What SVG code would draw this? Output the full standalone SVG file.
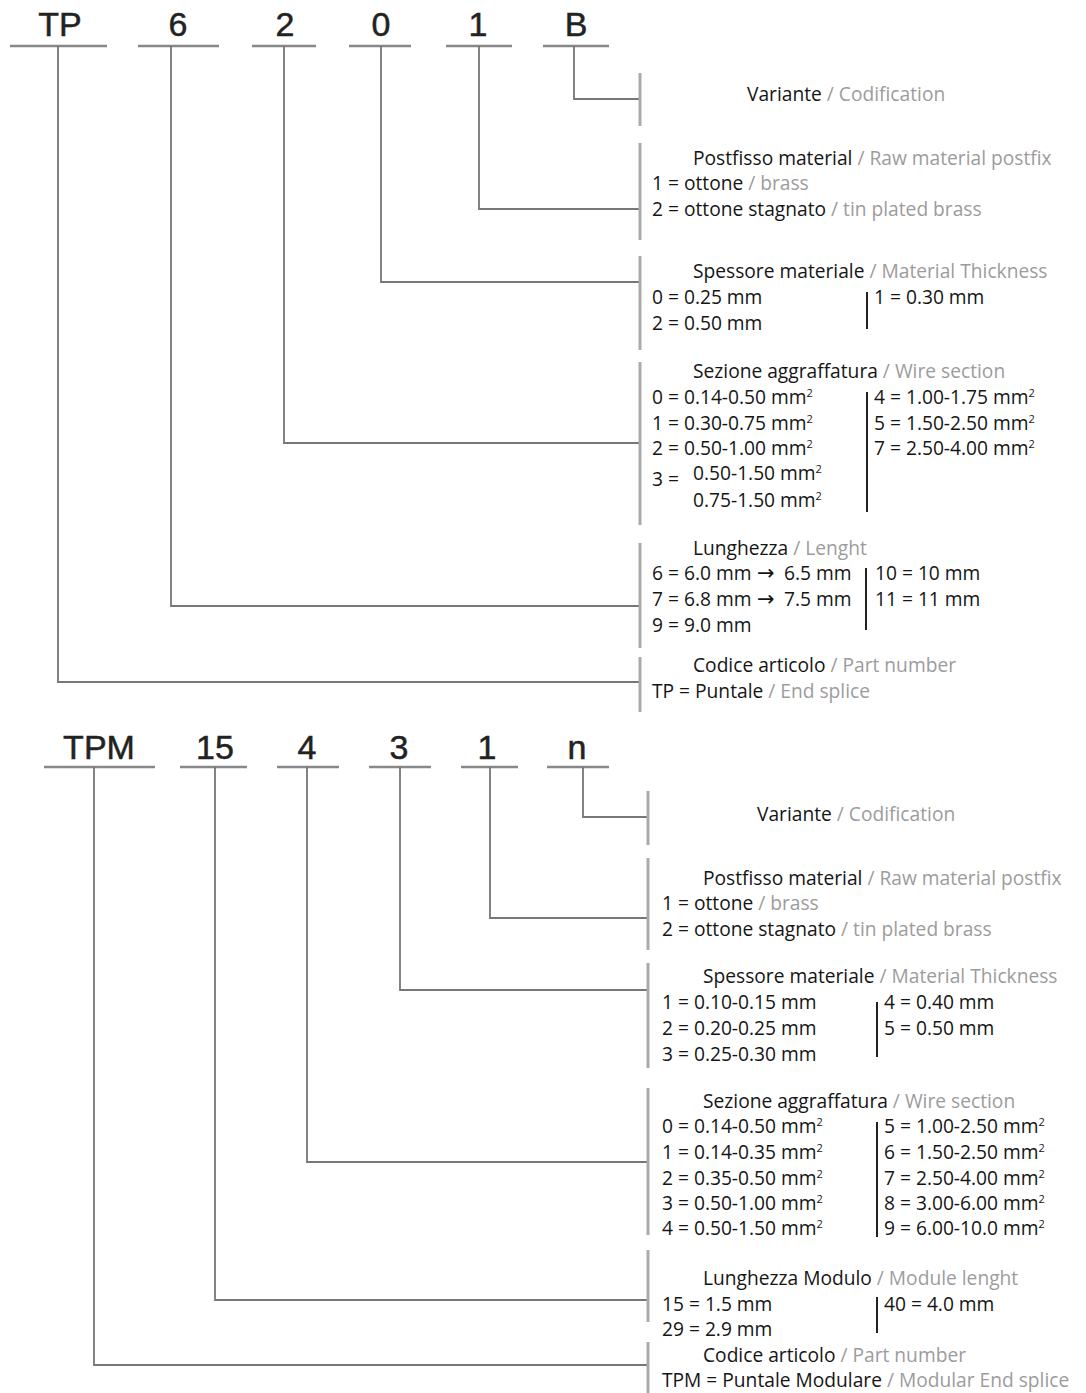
<svg xmlns="http://www.w3.org/2000/svg" width="1086" height="1393" viewBox="0 0 1086 1393">
<style>
.code{font-family:"Liberation Sans",Arial,sans-serif;font-size:34px;fill:#222;stroke:#222;stroke-width:0.5;text-anchor:middle}
.ul{stroke:#888;stroke-width:2.5;fill:none}
.cn{stroke:#777;stroke-width:1.8;fill:none}
.bar{stroke:#aaa;stroke-width:3;fill:none}
.dv{stroke:#222;stroke-width:2;fill:none}
.t{font-family:"Open Sans","Noto Sans",sans-serif;font-size:19.2px}
.it{fill:#151515}
.en{fill:#9c9c9c}
.sup{font-size:11px}
.arr{font-family:"DejaVu Sans",sans-serif;font-size:21px}
</style>
<rect width="1086" height="1393" fill="#fff"/>

<!-- ===== TOP: code labels ===== -->
<g id="code-TP"><text class="code" x="60" y="36">TP</text><line class="ul" x1="10" y1="46" x2="107" y2="46"/></g>
<g id="code-6"><text class="code" x="178" y="36">6</text><line class="ul" x1="138" y1="46" x2="219" y2="46"/></g>
<g id="code-2"><text class="code" x="285" y="36">2</text><line class="ul" x1="252" y1="46" x2="316" y2="46"/></g>
<g id="code-0"><text class="code" x="381" y="36">0</text><line class="ul" x1="349" y1="46" x2="411" y2="46"/></g>
<g id="code-1"><text class="code" x="478" y="36">1</text><line class="ul" x1="446" y1="46" x2="512" y2="46"/></g>
<g id="code-B"><text class="code" x="576" y="36">B</text><line class="ul" x1="543" y1="46" x2="609" y2="46"/></g>

<!-- ===== BOTTOM: code labels ===== -->
<g id="code-TPM"><text class="code" x="99" y="759">TPM</text><line class="ul" x1="44" y1="767" x2="155" y2="767"/></g>
<g id="code-15"><text class="code" x="215" y="759">15</text><line class="ul" x1="180" y1="767" x2="247" y2="767"/></g>
<g id="code-4"><text class="code" x="307" y="759">4</text><line class="ul" x1="277" y1="767" x2="339" y2="767"/></g>
<g id="code-3"><text class="code" x="399" y="759">3</text><line class="ul" x1="369" y1="767" x2="431" y2="767"/></g>
<g id="code-1b"><text class="code" x="487" y="759">1</text><line class="ul" x1="461" y1="767" x2="518" y2="767"/></g>
<g id="code-n"><text class="code" x="577" y="759">n</text><line class="ul" x1="547" y1="767" x2="609" y2="767"/></g>

<!-- ===== connectors ===== -->
<g id="connectors">
<polyline class="cn" points="58,46 58,682 640,682"/>
<polyline class="cn" points="171,46 171,606 640,606"/>
<polyline class="cn" points="284,46 284,443 640,443"/>
<polyline class="cn" points="381,46 381,282 640,282"/>
<polyline class="cn" points="479,46 479,209 640,209"/>
<polyline class="cn" points="574,46 574,99 640,99"/>

<polyline class="cn" points="94,767 94,1365 648,1365"/>
<polyline class="cn" points="215,767 215,1300 648,1300"/>
<polyline class="cn" points="307,767 307,1162 648,1162"/>
<polyline class="cn" points="400,767 400,990 648,990"/>
<polyline class="cn" points="490,767 490,918 648,918"/>
<polyline class="cn" points="583,767 583,817 648,817"/>
</g>

<!-- ===== TOP description blocks ===== -->
<g id="top-variante">
<line class="bar" x1="640" y1="73" x2="640" y2="126"/>
<text class="t" x="747" y="101"><tspan class="it">Variante</tspan><tspan class="en"> / Codification</tspan></text>
</g>
<g id="top-postfisso">
<line class="bar" x1="640" y1="143" x2="640" y2="240"/>
<text class="t" x="693" y="165"><tspan class="it">Postfisso material</tspan><tspan class="en"> / Raw material postfix</tspan></text>
<text class="t" x="652" y="190"><tspan class="it">1 = ottone</tspan><tspan class="en"> / brass</tspan></text>
<text class="t" x="652" y="216"><tspan class="it">2 = ottone stagnato</tspan><tspan class="en"> / tin plated brass</tspan></text>
</g>
<g id="top-spessore">
<line class="bar" x1="640" y1="256" x2="640" y2="350"/>
<text class="t" x="693" y="278"><tspan class="it">Spessore materiale</tspan><tspan class="en"> / Material Thickness</tspan></text>
<text class="t it" x="652" y="304">0 = 0.25 mm</text>
<text class="t it" x="652" y="330">2 = 0.50 mm</text>
<line class="dv" x1="867" y1="292" x2="867" y2="329"/>
<text class="t it" x="874" y="304">1 = 0.30 mm</text>
</g>
<g id="top-sezione">
<line class="bar" x1="640" y1="362" x2="640" y2="525"/>
<text class="t" x="693" y="378"><tspan class="it">Sezione aggraffatura</tspan><tspan class="en"> / Wire section</tspan></text>
<text class="t it" x="652" y="404">0 = 0.14-0.50 mm<tspan class="sup" dy="-7">2</tspan></text>
<text class="t it" x="652" y="430">1 = 0.30-0.75 mm<tspan class="sup" dy="-7">2</tspan></text>
<text class="t it" x="652" y="455">2 = 0.50-1.00 mm<tspan class="sup" dy="-7">2</tspan></text>
<text class="t it" x="652" y="486">3 =</text>
<text class="t it" x="693" y="480">0.50-1.50 mm<tspan class="sup" dy="-7">2</tspan></text>
<text class="t it" x="693" y="507">0.75-1.50 mm<tspan class="sup" dy="-7">2</tspan></text>
<line class="dv" x1="867" y1="392" x2="867" y2="512"/>
<text class="t it" x="874" y="404">4 = 1.00-1.75 mm<tspan class="sup" dy="-7">2</tspan></text>
<text class="t it" x="874" y="430">5 = 1.50-2.50 mm<tspan class="sup" dy="-7">2</tspan></text>
<text class="t it" x="874" y="455">7 = 2.50-4.00 mm<tspan class="sup" dy="-7">2</tspan></text>
</g>
<g id="top-lunghezza">
<line class="bar" x1="640" y1="543" x2="640" y2="648"/>
<text class="t" x="693" y="555"><tspan class="it">Lunghezza</tspan><tspan class="en"> / Lenght</tspan></text>
<text class="t it" x="652" y="580">6 = 6.0 mm<tspan class="arr" x="757">→</tspan><tspan x="784">6.5 mm</tspan></text>
<text class="t it" x="652" y="606">7 = 6.8 mm<tspan class="arr" x="757">→</tspan><tspan x="784">7.5 mm</tspan></text>
<text class="t it" x="652" y="632">9 = 9.0 mm</text>
<line class="dv" x1="866" y1="568" x2="866" y2="630"/>
<text class="t it" x="875" y="580">10 = 10 mm</text>
<text class="t it" x="875" y="606">11 = 11 mm</text>
</g>
<g id="top-codice">
<line class="bar" x1="640" y1="657" x2="640" y2="712"/>
<text class="t" x="693" y="672"><tspan class="it">Codice articolo</tspan><tspan class="en"> / Part number</tspan></text>
<text class="t" x="652" y="698"><tspan class="it">TP = Puntale</tspan><tspan class="en"> / End splice</tspan></text>
</g>

<!-- ===== BOTTOM description blocks ===== -->
<g id="bot-variante">
<line class="bar" x1="648" y1="791" x2="648" y2="845"/>
<text class="t" x="757" y="821"><tspan class="it">Variante</tspan><tspan class="en"> / Codification</tspan></text>
</g>
<g id="bot-postfisso">
<line class="bar" x1="648" y1="858" x2="648" y2="950"/>
<text class="t" x="703" y="885"><tspan class="it">Postfisso material</tspan><tspan class="en"> / Raw material postfix</tspan></text>
<text class="t" x="662" y="910"><tspan class="it">1 = ottone</tspan><tspan class="en"> / brass</tspan></text>
<text class="t" x="662" y="936"><tspan class="it">2 = ottone stagnato</tspan><tspan class="en"> / tin plated brass</tspan></text>
</g>
<g id="bot-spessore">
<line class="bar" x1="648" y1="963" x2="648" y2="1068"/>
<text class="t" x="703" y="983"><tspan class="it">Spessore materiale</tspan><tspan class="en"> / Material Thickness</tspan></text>
<text class="t it" x="662" y="1009">1 = 0.10-0.15 mm</text>
<text class="t it" x="662" y="1035">2 = 0.20-0.25 mm</text>
<text class="t it" x="662" y="1061">3 = 0.25-0.30 mm</text>
<line class="dv" x1="877" y1="1002" x2="877" y2="1057"/>
<text class="t it" x="884" y="1009">4 = 0.40 mm</text>
<text class="t it" x="884" y="1035">5 = 0.50 mm</text>
</g>
<g id="bot-sezione">
<line class="bar" x1="648" y1="1088" x2="648" y2="1235"/>
<text class="t" x="703" y="1108"><tspan class="it">Sezione aggraffatura</tspan><tspan class="en"> / Wire section</tspan></text>
<text class="t it" x="662" y="1133">0 = 0.14-0.50 mm<tspan class="sup" dy="-7">2</tspan></text>
<text class="t it" x="662" y="1159">1 = 0.14-0.35 mm<tspan class="sup" dy="-7">2</tspan></text>
<text class="t it" x="662" y="1185">2 = 0.35-0.50 mm<tspan class="sup" dy="-7">2</tspan></text>
<text class="t it" x="662" y="1210">3 = 0.50-1.00 mm<tspan class="sup" dy="-7">2</tspan></text>
<text class="t it" x="662" y="1235">4 = 0.50-1.50 mm<tspan class="sup" dy="-7">2</tspan></text>
<line class="dv" x1="877" y1="1122" x2="877" y2="1237"/>
<text class="t it" x="884" y="1133">5 = 1.00-2.50 mm<tspan class="sup" dy="-7">2</tspan></text>
<text class="t it" x="884" y="1159">6 = 1.50-2.50 mm<tspan class="sup" dy="-7">2</tspan></text>
<text class="t it" x="884" y="1185">7 = 2.50-4.00 mm<tspan class="sup" dy="-7">2</tspan></text>
<text class="t it" x="884" y="1210">8 = 3.00-6.00 mm<tspan class="sup" dy="-7">2</tspan></text>
<text class="t it" x="884" y="1235">9 = 6.00-10.0 mm<tspan class="sup" dy="-7">2</tspan></text>
</g>
<g id="bot-lunghezza">
<line class="bar" x1="648" y1="1250" x2="648" y2="1322"/>
<text class="t" x="703" y="1285"><tspan class="it">Lunghezza Modulo</tspan><tspan class="en"> / Module lenght</tspan></text>
<text class="t it" x="662" y="1311">15 = 1.5 mm</text>
<text class="t it" x="662" y="1336">29 = 2.9 mm</text>
<line class="dv" x1="877" y1="1297" x2="877" y2="1333"/>
<text class="t it" x="884" y="1311">40 = 4.0 mm</text>
</g>
<g id="bot-codice">
<line class="bar" x1="648" y1="1342" x2="648" y2="1393"/>
<text class="t" x="703" y="1362"><tspan class="it">Codice articolo</tspan><tspan class="en"> / Part number</tspan></text>
<text class="t" x="662" y="1387"><tspan class="it">TPM = Puntale Modulare</tspan><tspan class="en"> / Modular End splice</tspan></text>
</g>
</svg>
